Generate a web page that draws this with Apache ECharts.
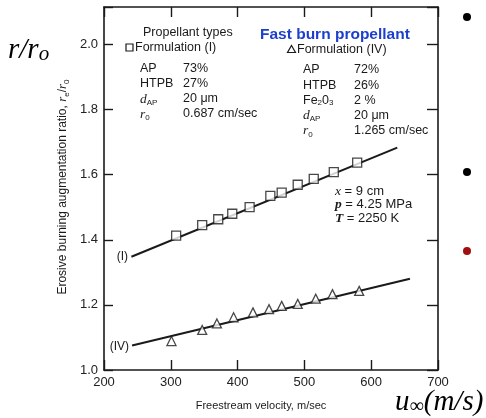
<!DOCTYPE html>
<html>
<head>
<meta charset="utf-8">
<script src="https://cdn.jsdelivr.net/npm/echarts@6/dist/echarts.min.js"></script>
<style>
html,body{margin:0;padding:0;background:#fff;}
#chart{width:486px;height:418px;}
</style>
</head>
<body>
<div id="chart"></div>
<script>
// ---- data ----
const velocityI = [308, 347, 371, 392, 418, 449, 466, 490, 514, 544, 579];
const ratioI    = [1.413, 1.445, 1.463, 1.480, 1.500, 1.535, 1.545, 1.569, 1.587, 1.608, 1.637];
const velocityIV = [301, 347, 369, 394, 423, 447, 466, 490, 517, 542, 582];
const ratioIV    = [1.089, 1.123, 1.143, 1.162, 1.177, 1.187, 1.197, 1.203, 1.219, 1.233, 1.243];
const fitVelocityI = [241, 639];
const fitRatioI    = [1.348, 1.683];
const fitVelocityIV = [242, 658];
const fitRatioIV    = [1.075, 1.280];
const xTickValues = [200, 300, 400, 500, 600, 700];
const yTickValues = [1.0, 1.2, 1.4, 1.6, 1.8, 2.0];
const formulationI = [['AP', '73%'], ['HTPB', '27%'], ['{i|d}{s|AP}', '20 μm'], ['{i|r}{s|0}', '0.687 cm/sec']];
const formulationIV = [['AP', '72%'], ['HTPB', '26%'], ['Fe{s|2}0{s|3}', '2 %'], ['{i|d}{s|AP}', '20 μm'], ['{i|r}{s|0}', '1.265 cm/sec']];
const conditions = ['{i|x} = 9 cm', '{ib|p} = 4.25 MPa', '{ib|T} = 2250 K'];

const zip = (a, b) => a.map((v, i) => [v, b[i]]);

const SANS = "'Liberation Sans', Arial, sans-serif";
const SERIF = "'Liberation Serif', 'Times New Roman', serif";
const INK = '#1a1a1a';

const smallRich = {
  i: { fontFamily: SERIF, fontStyle: 'italic', fontSize: 13.5, lineHeight: 15, fill: INK },
  ib: { fontFamily: SERIF, fontStyle: 'italic', fontWeight: 'bold', fontSize: 13.5, lineHeight: 15, fill: INK },
  s: { fontFamily: SANS, fontSize: 8, lineHeight: 8, verticalAlign: 'bottom', fill: INK }
};

function txt(x, y, text, extra) {
  return {
    type: 'text', x: x, y: y, z: 10,
    style: Object.assign({
      text: text, fontFamily: SANS, fontSize: 12.5, fill: INK,
      textVerticalAlign: 'middle', textAlign: 'left', rich: smallRich
    }, extra || {})
  };
}

const graphics = [];
// Left annotation block
graphics.push(txt(143, 33, 'Propellant types'));
graphics.push({ type: 'rect', shape: { x: 126, y: 44, width: 7, height: 7 }, style: { fill: '#fff', stroke: INK, lineWidth: 1.2 }, z: 10 });
graphics.push(txt(135, 48, 'Formulation (I)'));
formulationI.forEach((row, k) => {
  const y = 69 + k * 15;
  graphics.push(txt(140, y, row[0]));
  graphics.push(txt(183, y, row[1]));
});
// Right annotation block
graphics.push(txt(260, 35, 'Fast burn propellant', { fontSize: 15.5, fontWeight: 'bold', fill: '#1c3fcc' }));
graphics.push({ type: 'polygon', shape: { points: [[291.5, 45.5], [295.5, 52.5], [287.5, 52.5]] }, style: { fill: '#fff', stroke: INK, lineWidth: 1.2 }, z: 10 });
graphics.push(txt(297, 50, 'Formulation (IV)'));
formulationIV.forEach((row, k) => {
  const y = 70 + k * 15.2;
  graphics.push(txt(303, y, row[0]));
  graphics.push(txt(354, y, row[1]));
});
// Conditions
conditions.forEach((c, k) => {
  graphics.push(txt(335, 191 + k * 13.8, c, { fontSize: 13 }));
});
// Curve labels
graphics.push(txt(128, 257, '(I)', { textAlign: 'right', fontSize: 12 }));
graphics.push(txt(129, 347, '(IV)', { textAlign: 'right', fontSize: 12 }));
// Axis titles
graphics.push(txt(261, 406, 'Freestream velocity, m/sec', { textAlign: 'center', fontSize: 11 }));
graphics.push({
  type: 'text', x: 63, y: 187, rotation: Math.PI / 2, z: 10,
  style: {
    text: 'Erosive burning augmentation ratio, {i|r}{s|e}/{i|r}{s|0}',
    fontFamily: SANS, fontSize: 12, fill: INK, textAlign: 'center', textVerticalAlign: 'middle',
    rich: {
      i: { fontFamily: SERIF, fontStyle: 'italic', fontSize: 13, lineHeight: 15, fill: INK },
      s: { fontFamily: SANS, fontSize: 8, lineHeight: 8, verticalAlign: 'bottom', fill: INK }
    }
  }
});
// Big slide labels
graphics.push({
  type: 'text', x: 8, y: 50, z: 10,
  style: {
    text: '{a|r/r}{b|o}', textVerticalAlign: 'middle',
    rich: {
      a: { fontFamily: SERIF, fontStyle: 'italic', fontSize: 29, lineHeight: 30, fill: '#000' },
      b: { fontFamily: SERIF, fontStyle: 'italic', fontSize: 21, lineHeight: 18, verticalAlign: 'bottom', fill: '#000' }
    }
  }
});
graphics.push({
  type: 'text', x: 395, y: 402, z: 10,
  style: {
    text: '{a|u}{b|∞}{a|(m/s)}', textVerticalAlign: 'middle',
    rich: {
      a: { fontFamily: SERIF, fontStyle: 'italic', fontSize: 29, lineHeight: 30, fill: '#000' },
      b: { fontFamily: SERIF, fontSize: 20, lineHeight: 16, verticalAlign: 'bottom', fill: '#000' }
    }
  }
});
// Slide bullets
graphics.push({ type: 'circle', shape: { cx: 467, cy: 17, r: 4 }, style: { fill: '#000' } });
graphics.push({ type: 'circle', shape: { cx: 467, cy: 172, r: 4 }, style: { fill: '#000' } });
graphics.push({ type: 'circle', shape: { cx: 467, cy: 251, r: 4 }, style: { fill: '#a01010' } });

const axisLineStyle = { color: INK, width: 1.6 };
const isTick = (list, v) => list.some(t => Math.abs(t - v) < 1e-6);

const chart = echarts.init(document.getElementById('chart'), null, { renderer: 'canvas' });
chart.setOption({
  backgroundColor: '#fff',
  animation: false,
  grid: { left: 104, right: 48, top: 7, bottom: 48 },
  xAxis: [{
    type: 'value', min: 200, max: 700, interval: 100, position: 'bottom',
    axisLine: { show: true, lineStyle: axisLineStyle },
    axisTick: { show: true, inside: true, length: 10, lineStyle: { color: INK, width: 1.4 } },
    axisLabel: { show: true, margin: 6, fontSize: 13, fontFamily: SANS, color: '#222',
      formatter: v => isTick(xTickValues, v) ? String(v) : '', showMaxLabel: true, showMinLabel: true },
    splitLine: { show: false }
  }, {
    type: 'value', min: 200, max: 700, interval: 100, position: 'top',
    axisLine: { show: true, lineStyle: axisLineStyle },
    axisTick: { show: true, inside: true, length: 10, lineStyle: { color: INK, width: 1.4 } },
    axisLabel: { show: false }, splitLine: { show: false }
  }],
  yAxis: [{
    type: 'value', min: 1.0, max: 2.115, interval: 0.2, position: 'left',
    axisLine: { show: true, lineStyle: axisLineStyle },
    axisTick: { show: true, inside: true, length: 9, lineStyle: { color: INK, width: 1.4 } },
    axisLabel: { show: true, margin: 6, fontSize: 13, fontFamily: SANS, color: '#222',
      formatter: v => isTick(yTickValues, v) ? v.toFixed(1) : '' },
    splitLine: { show: false }
  }, {
    type: 'value', min: 1.0, max: 2.115, interval: 0.2, position: 'right',
    axisLine: { show: true, lineStyle: axisLineStyle },
    axisTick: { show: true, inside: true, length: 11, lineStyle: { color: INK, width: 1.4 } },
    axisLabel: { show: false }, splitLine: { show: false }
  }],
  series: [{
    name: 'Fit (I)', type: 'line', data: zip(fitVelocityI, fitRatioI), symbol: 'none',
    lineStyle: { color: INK, width: 2 }, z: 2
  }, {
    name: 'Fit (IV)', type: 'line', data: zip(fitVelocityIV, fitRatioIV), symbol: 'none',
    lineStyle: { color: INK, width: 2 }, z: 2
  }, {
    name: 'Formulation (I)', type: 'scatter', data: zip(velocityI, ratioI), symbol: 'rect', symbolSize: 9,
    itemStyle: { color: '#fff', borderColor: INK, borderWidth: 1.3 }, z: 3
  }, {
    name: 'Formulation (IV)', type: 'scatter', data: zip(velocityIV, ratioIV), symbol: 'triangle', symbolSize: 9,
    itemStyle: { color: '#fff', borderColor: INK, borderWidth: 1.3 }, z: 3
  }],
  graphic: graphics
});
</script>
</body>
</html>
